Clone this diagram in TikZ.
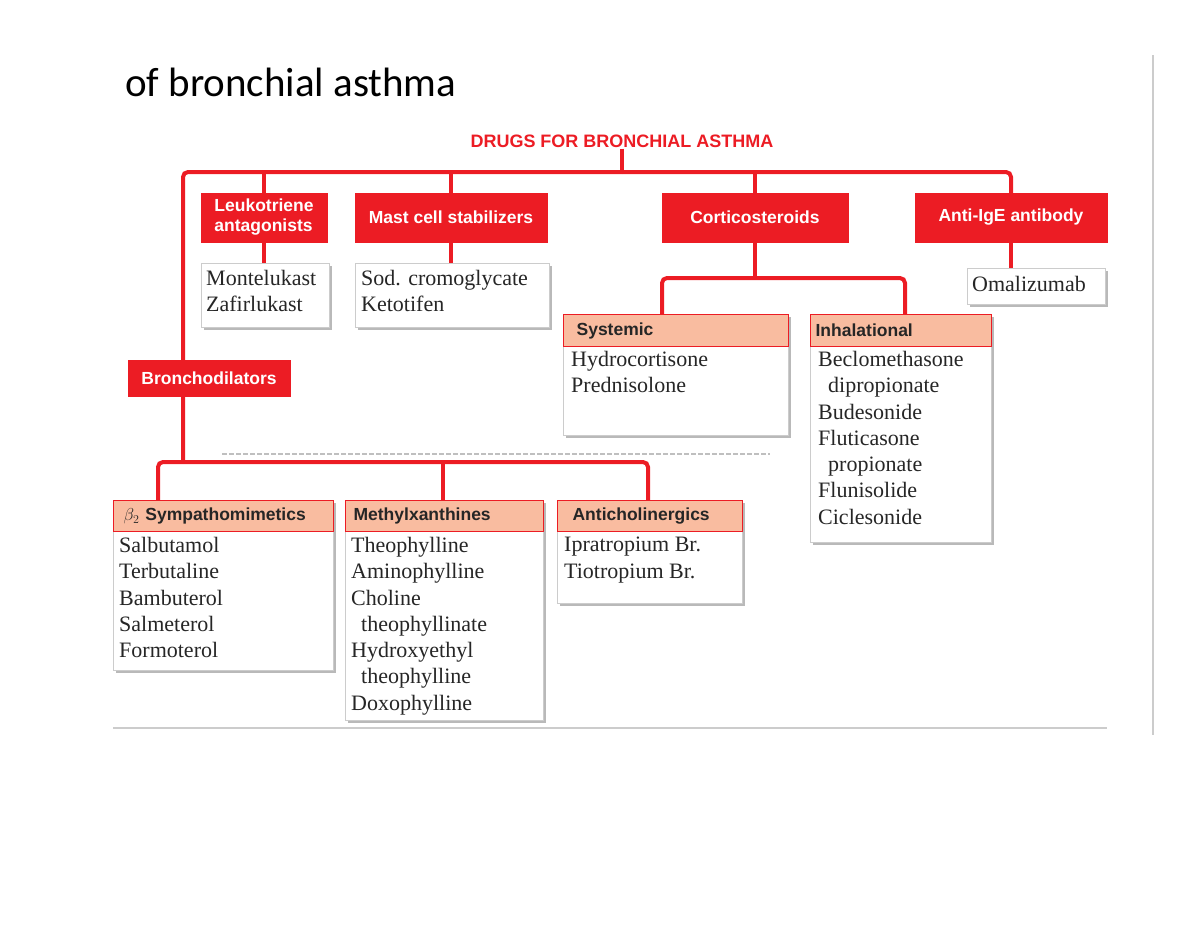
\documentclass[tikz,border=0pt]{standalone}
\usepackage{fontspec}
\setmainfont{Liberation Serif}
\newfontfamily\hdr{Liberation Sans}
\newfontfamily\ttl{Carlito}
\usetikzlibrary{shadows}
\pgfdeclarelayer{bg}
\pgfsetlayers{bg,main}
\definecolor{dred}{HTML}{EC1C24}
\definecolor{salm}{HTML}{F9BCA0}
\tikzset{
 redbox/.style={fill=dred,draw=dred,text=white,font=\hdr\bfseries\fontsize{17.5}{20}\selectfont,inner sep=2pt,align=left},
 conn/.style={draw=dred,line width=4pt,rounded corners=5pt},
 body/.style={draw=gray!40,fill=white,line width=0.6pt,anchor=north west,inner sep=0pt,
   drop shadow={shadow xshift=3pt,shadow yshift=-3pt,fill=gray!55,opacity=1}},
 hd/.style={fill=salm,draw=dred,line width=1.2pt,anchor=north west,inner sep=0pt,font=\hdr\bfseries\fontsize{17.5}{20}\selectfont,text=black!85},
 txt/.style={anchor=north west,align=left,inner sep=0pt,font=\fontsize{22}{26.3}\selectfont,text=black!85},
}
\begin{document}
\begin{tikzpicture}[x=1pt,y=-1pt]
\useasboundingbox (0,0) rectangle (1200,927);
\draw[gray!40,line width=2pt] (1153,55) -- (1153,735);
\node[anchor=west,inner sep=0pt,font=\ttl\fontsize{41}{46}\selectfont] (title) at (125,82) {of bronchial asthma};
\node[text=dred,font=\hdr\bfseries\fontsize{18}{20}\selectfont,inner sep=1pt] (top) at (622,141) {DRUGS FOR BRONCHIAL ASTHMA};
% top level
\node[redbox,minimum width=126,minimum height=49] (leuk) at (264,217.5) {Leukotriene\\antagonists};
\node[redbox,minimum width=192,minimum height=49] (mast) at (451,217.5) {Mast cell stabilizers};
\node[redbox,minimum width=186,minimum height=49] (cort) at (755,217.5) {Corticosteroids};
\node[redbox,minimum width=192,minimum height=49] (ige) at (1011,217.5) {Anti-IgE antibody};
\node[redbox,minimum width=162,minimum height=36] (bron) at (209,378) {Bronchodilators};
\coordinate (j) at (622,172);
\begin{pgfonlayer}{bg}
\draw[conn] (top.south) -- (j);
\draw[conn] (183,462) |- (j) ;
\end{pgfonlayer}
\draw[conn] (j) -| (ige.north);
\draw[conn] (leuk.north) -- (leuk.north|-j);
\draw[conn] (mast.north) -- (mast.north|-j);
\draw[conn] (cort.north) -- (cort.north|-j);
% second level boxes
\node[body,minimum width=128,minimum height=64] (montb) at (201,263) {};
\node[txt] (mont) at (206,270) {Montelukast\\Zafirlukast};
\node[body,minimum width=194,minimum height=64] (sodb) at (355,263) {};
\node[txt] (sod) at (361,270) {Sod. cromoglycate\\Ketotifen};
\node[body,minimum width=138,minimum height=36] (omab) at (967,268) {};
\node[txt] (oma) at (972,276) {Omalizumab};
\draw[conn] (leuk.south) -- (montb.north-|leuk.south);
\draw[conn] (mast.south) -- (sodb.north-|mast.south);
\draw[conn] (ige.south) -- (omab.north-|ige.south);
% corticosteroids branches
\node[body,minimum width=225,minimum height=121] (sysb) at (563,314) {};
\node[hd,minimum width=225,minimum height=32,text width=215] (sys) at (563,314) {\hspace*{8pt}Systemic};
\node[txt] at (571,351) {Hydrocortisone\\Prednisolone};
\node[body,minimum width=181,minimum height=228] (inhb) at (810,314) {};
\node[hd,minimum width=181,minimum height=32,text width=175] (inh) at (810,314) {\hspace*{2pt}Inhalational};
\node[txt] at (818,351) {Beclomethasone\\\hspace*{10pt}dipropionate\\Budesonide\\Fluticasone\\\hspace*{10pt}propionate\\Flunisolide\\Ciclesonide};
\coordinate (cj) at (755,278);
\draw[conn] (cort.south) -- (cj);
\draw[conn] (sys.north-|662,0) |- (cj) -| (inh.north-|905,0);
% bronchodilators
\draw[gray!50,line width=2.5pt,dash pattern=on 5pt off 2pt] (222,454) -- (770,454);
\node[body,minimum width=220,minimum height=170] (b2b) at (113,500) {};
\node[hd,minimum width=220,minimum height=31,text width=212] (b2) at (113,500) {\hspace*{6pt}{\rmfamily\mdseries$\beta_2$} Sympathomimetics};
\node[txt] at (119,537) {Salbutamol\\Terbutaline\\Bambuterol\\Salmeterol\\Formoterol};
\node[body,minimum width=198,minimum height=220] (mxb) at (345,500) {};
\node[hd,minimum width=198,minimum height=31,text width=190] (mx) at (345,500) {\hspace*{4pt}Methylxanthines};
\node[txt] at (351,537) {Theophylline\\Aminophylline\\Choline\\\hspace*{10pt}theophyllinate\\Hydroxyethyl\\\hspace*{10pt}theophylline\\Doxophylline};
\node[body,minimum width=185,minimum height=103] (acb) at (557,500) {};
\node[hd,minimum width=185,minimum height=31,text width=175] (ac) at (557,500) {\hspace*{10pt}Anticholinergics};
\node[txt] at (564,537) {Ipratropium Br.\\Tiotropium Br.};
\coordinate (bj) at (183,462);
\draw[conn] (b2.north-|158,0) |- (bj) -| (ac.north-|648,0);
\draw[conn] (mx.north-|443,0) -- (443,462);
\draw[gray!40,line width=2pt] (113,728) -- (1107,728);
\end{tikzpicture}
\end{document}
